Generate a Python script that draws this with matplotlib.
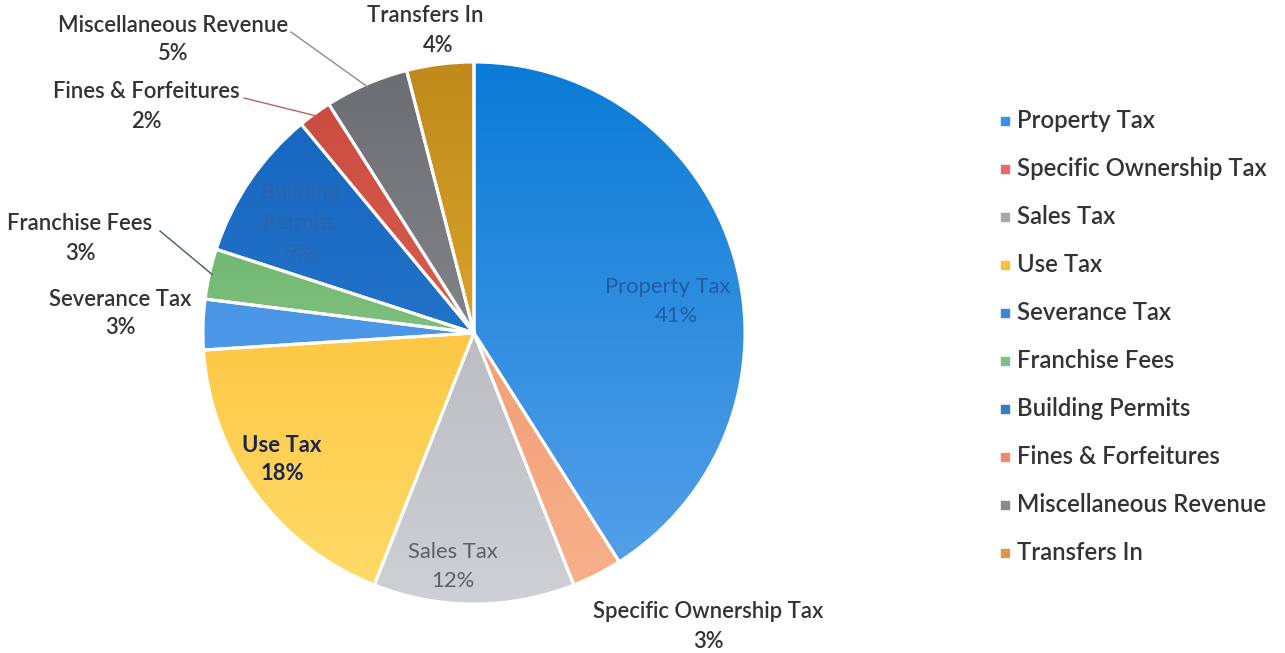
import numpy as np
import matplotlib.pyplot as plt
from matplotlib.colors import LinearSegmentedColormap

# revenue sources and their share of the total (%)
sources = ['Property Tax', 'Specific Ownership Tax', 'Sales Tax', 'Use Tax',
           'Severance Tax', 'Franchise Fees', 'Building Permits',
           'Fines & Forfeitures', 'Miscellaneous Revenue', 'Transfers In']
shares = [41, 3, 12, 18, 3, 3, 9, 2, 5, 4]

# gradient colours for each wedge (top -> bottom)
top_colors = ['#0a7bd6', '#f08a5e', '#a9a9b0', '#fbb520', '#2f86dc',
              '#5aac5e', '#1565c0', '#c9483e', '#6c6d72', '#c08a1c']
bottom_colors = ['#5aa2ea', '#f7b28c', '#cfcfd6', '#ffdc6a', '#6aaaf0',
                 '#a2d29a', '#2f7fd0', '#e8765e', '#9a9ba0', '#f2bc3a']
legend_colors = ['#3a8fe6', '#e86a6a', '#a8a8a8', '#f5c33a', '#3a86d8',
                 '#7cc08a', '#3a7cc4', '#ec8a74', '#8a8a8e', '#d89a4a']

plt.rcParams['font.family'] = ['Lato', 'DejaVu Sans']
text_col = '#333333'
lbl_size = 15.8

fig = plt.figure(figsize=(12.85, 6.53), dpi=100)
ax = fig.add_axes([0, 0, 1, 1])

cx, cy, r = 474, 653 - 333, 271
wedges, _ = ax.pie(shares, startangle=90, counterclock=False,
                   center=(cx, cy), radius=r, frame=True,
                   colors=top_colors,
                   wedgeprops=dict(edgecolor='white', linewidth=2.2))
ax.set_xlim(0, 1285)
ax.set_ylim(0, 653)
ax.set_aspect('equal')
ax.axis('off')

# vertical gradient fill clipped to each wedge
grad = np.linspace(0, 1, 256).reshape(-1, 1)
for w, c0, c1 in zip(wedges, top_colors, bottom_colors):
    cmap = LinearSegmentedColormap.from_list('g', [c1, c0])
    im = ax.imshow(grad, cmap=cmap, origin='lower', aspect='auto',
                   extent=(cx - r, cx + r, cy - r, cy + r), zorder=1)
    im.set_clip_path(w)
    w.set_facecolor('none')
    w.set_zorder(2)

def edge_point(i, frac=1.0):
    w = wedges[i]
    ang = np.deg2rad((w.theta1 + w.theta2) / 2)
    return cx + frac * r * np.cos(ang), cy + frac * r * np.sin(ang)

# outside labels: (index, label x, label y in pixels from top)
outside = {8: (173, 25), 9: (425, 16), 7: (146, 92), 5: (80, 224),
           4: (120, 299), 1: (708, 612)}
for i, (lx, ly) in outside.items():
    ax.text(lx, 653 - ly, sources[i], ha='center', va='center',
            fontsize=lbl_size, color=text_col, fontweight='semibold')
    ax.text(lx + (13 if i == 9 else 0), 653 - ly - 29, f'{shares[i]}%',
            ha='center', va='center', fontsize=lbl_size, color=text_col,
            fontweight='semibold')

# leader lines
leaders = {8: ((291, 32), '#8c8c92'), 7: ((244, 98), '#c0605a'),
           5: ((160, 231), '#4a5a66')}
for i, ((sx, sy), lc) in leaders.items():
    ex, ey = edge_point(i, 0.99)
    ax.plot([sx, ex], [653 - sy, ey], color=lc, lw=1.0, zorder=3)

# inside labels
inside = {0: ((668, 287), '#1d5da8', 'normal'),
          2: ((453, 552), '#5e5e66', 'normal'),
          3: ((282, 445), '#1a2550', 'bold'),
          6: ((300, 208), '#2a64a8', 'normal')}
for i, ((lx, ly), tc, fw) in inside.items():
    lbl = 'Building\nPermits' if i == 6 else sources[i]
    y1 = 653 - ly
    ax.text(lx, y1, lbl, ha='center', va='center', fontsize=lbl_size,
            color=tc, linespacing=1.6, zorder=4, fontweight=fw)
    dy = 45 if i == 6 else 29
    ax.text(lx + (8 if i == 0 else 0), y1 - dy, f'{shares[i]}%',
            ha='center', va='center', fontsize=lbl_size, color=tc, zorder=4,
            fontweight=fw)

# legend
for k, (name, lc) in enumerate(zip(sources, legend_colors)):
    y = 653 - (121 + 48 * k)
    ax.scatter([1005], [y], marker='s', s=40, color=lc, zorder=4)
    ax.text(1017, y, name, ha='left', va='center', fontsize=17.2,
            color=text_col, fontweight='semibold')

fig.savefig('out.png', dpi=100)
